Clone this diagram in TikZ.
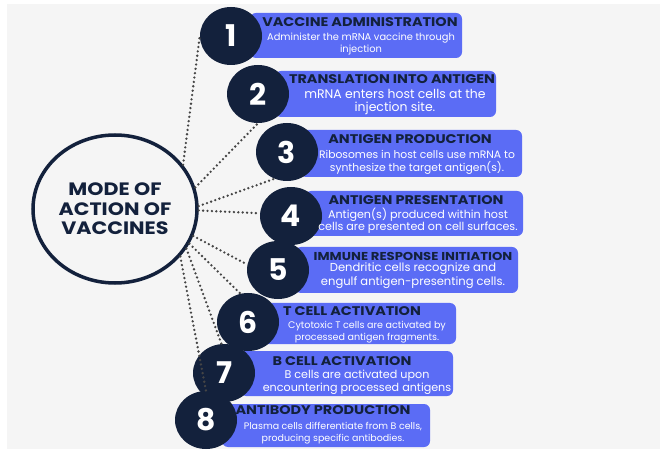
\documentclass[tikz,border=0pt]{standalone}
\usepackage{fontspec}
\setmainfont{Poppins}
\newfontfamily\widefont[FakeStretch=1.15]{Poppins}
\usetikzlibrary{shapes.geometric}

\definecolor{navy}{HTML}{13213C}
\definecolor{cardblue}{HTML}{5B6CF5}
\definecolor{dotgrey}{HTML}{454545}
\definecolor{paper}{HTML}{F5F5F5}

\tikzset{
  hubring/.style={ellipse, draw=navy, line width=3.5bp, fill=paper,
    minimum width=164bp, minimum height=148bp, inner sep=0pt, align=center,
    text=navy, font=\widefont\fontsize{18}{19.5}\selectfont\bfseries},
  numball/.style={ellipse, fill=navy, minimum width=62bp, minimum height=58bp,
    inner sep=0pt, text=white, font=\fontsize{30}{30}\selectfont\bfseries},
  card/.style={rounded corners=6bp, fill=cardblue},
  head/.style={inner sep=0pt, text=navy,
    font=\widefont\fontsize{#1}{#1}\selectfont\bfseries},
  head/.default=12.6,
  body/.style 2 args={inner sep=0pt, align=center, text=white,
    font=\fontsize{#1}{#2}\selectfont},
  link/.style={dotgrey, line width=2.6bp, line cap=round, dash pattern=on 0pt off 4.4bp},
}

\begin{document}
\begin{tikzpicture}[x=1bp, y=-1bp]
  \useasboundingbox (0,0) rectangle (660,451);
  % fond gris
  \fill[paper] (7,4) rectangle (660,449);

  % cartes bleues
  \fill[card] (250,13) rectangle (462,58);
  \fill[card] (275,71) rectangle (496,117);
  \fill[card] (300,130) rectangle (522,177);
  \fill[card] (305,191) rectangle (523,236);
  \fill[card] (295,247) rectangle (518,293);
  \fill[card] (262,303) rectangle (456,344);
  \fill[card] (240,351) rectangle (453,396);
  \fill[card] (222,404) rectangle (430,447);

  % cercle central
  \node[hubring] (hub) at (115,209) {MODE OF\\ACTION OF\\VACCINES};

  % pastilles numerotees
  \node[numball] (n1) at (231,36) {1};
  \node[numball] (n2) at (258,94) {2};
  \node[numball] (n3) at (287,152) {3};
  \node[numball] (n4) at (291,216) {4};
  \node[numball] (n5) at (278,270) {5};
  \node[numball] (n6) at (248,322) {6};
  \node[numball] (n7) at (224,373) {7};
  \node[numball] (n8) at (206,420) {8};

  % liens pointilles
  \draw[link] (hub.33) -- (n1.180);
  \draw[link] (hub.15) -- (n2.south);
  \draw[link] (hub.2) -- (n3.-115);
  \draw[link] (hub.-1) -- (n4.175);
  \draw[link] (hub.-19) -- (n5.170);
  \draw[link] (hub.-25) -- (n6.105);
  \draw[link] (hub.-29) -- (n7.95);
  \draw[link] (hub.-36) -- (n8.north);

  % titres et descriptions
  \node[head] (t1) at (360,22) {VACCINE ADMINISTRATION};
  \node[body={9.9}{11.5}] (d1) at (361,44) {Administer the mRNA vaccine through\\injection};
  \node[head] (t2) at (392,79) {TRANSLATION INTO ANTIGEN};
  \node[body={12.5}{12.5}] (d2) at (395,102) {mRNA enters host cells at the\\injection site.};
  \node[head] (t3) at (410,139) {ANTIGEN PRODUCTION};
  \node[body={10.8}{13}] (d3) at (417,162) {Ribosomes in host cells use mRNA to\\synthesize the target antigen(s).};
  \node[head] (t4) at (416,200) {ANTIGEN PRESENTATION};
  \node[body={11.2}{12.5}] (d4) at (418,221) {Antigen(s) produced within host\\cells are presented on cell surfaces.};
  \node[head=11.5] (t5) at (413,256) {IMMUNE RESPONSE INITIATION};
  \node[body={11.6}{14}] (d5) at (413,276) {Dendritic cells recognize and\\engulf antigen-presenting cells.};
  \node[head] (t6) at (352,311) {T CELL ACTIVATION};
  \node[body={9.6}{12}] (d6) at (367,332) {Cytotoxic T cells are activated by\\processed antigen fragments.};
  \node[head] (t7) at (342,361) {B CELL ACTIVATION};
  \node[body={11.2}{13}] (d7) at (357,382) {B cells are activated upon\\encountering processed antigens};
  \node[head] (t8) at (323,410) {ANTIBODY PRODUCTION};
  \node[body={9.5}{12}] (d8) at (333,433) {Plasma cells differentiate from B cells,\\producing specific antibodies.};
\end{tikzpicture}
\end{document}
